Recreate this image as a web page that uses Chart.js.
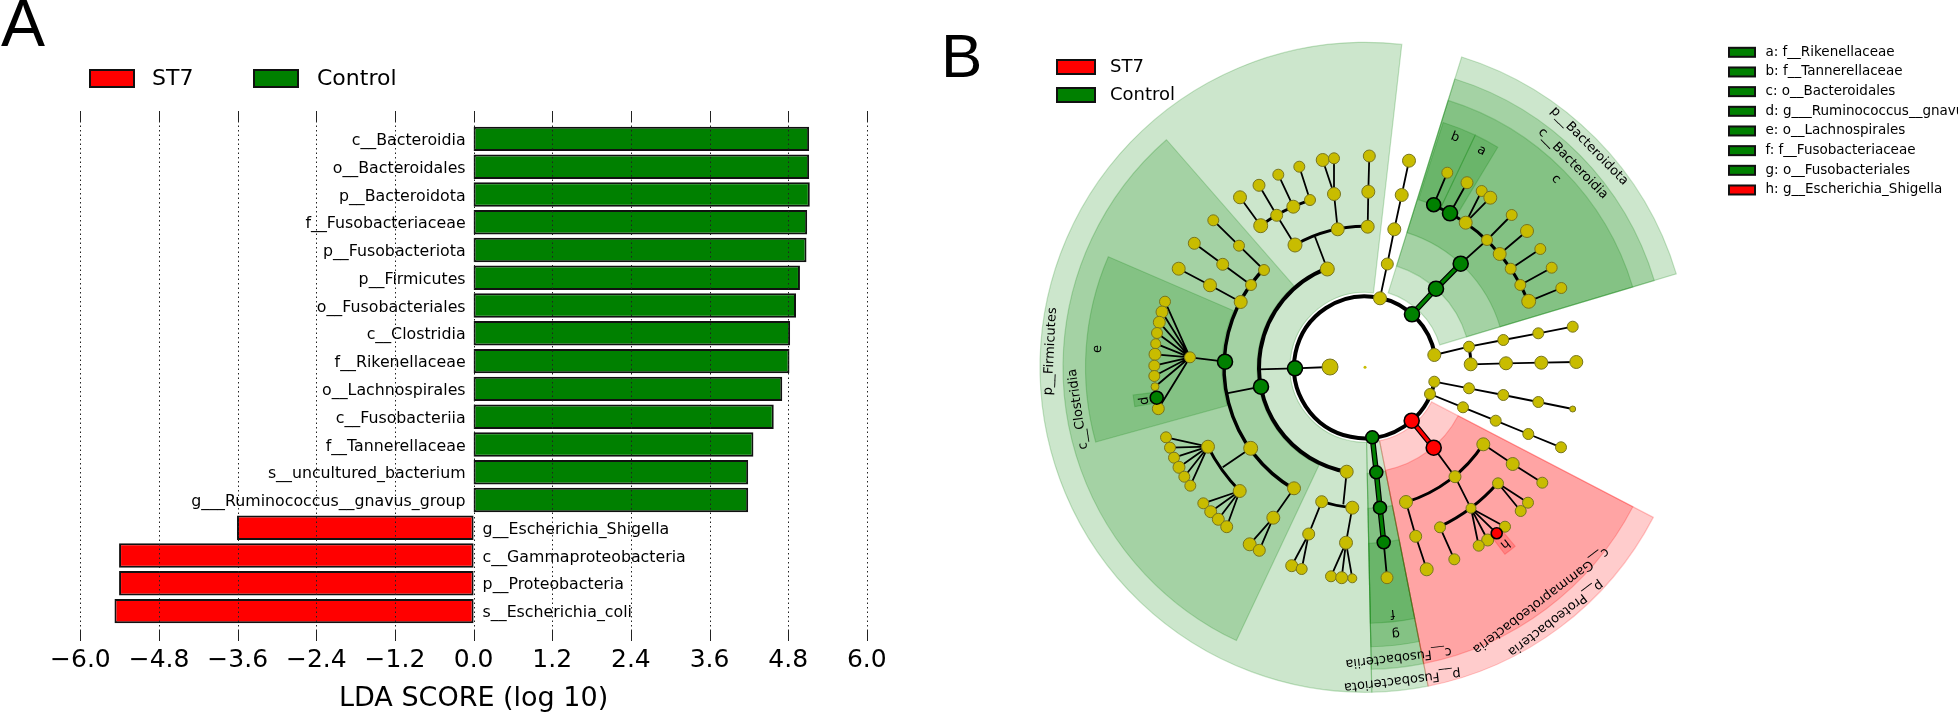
<!DOCTYPE html>
<html>
<head>
<meta charset="utf-8">
<title>LEfSe</title>
<script src="https://cdn.jsdelivr.net/npm/chart.js@4/dist/chart.umd.min.js"></script>
<style>
  body { margin: 0; background: #fff; overflow: hidden; }
  canvas { position: absolute; top: 0; }
  #barras { left: 0; }
  #clado { left: 920px; }
</style>
</head>
<body>
<canvas id="barras" width="920" height="712"></canvas>
<canvas id="clado" width="1038" height="712"></canvas>
<script>
// DATOS PANEL A
const featureNames = ['c__Bacteroidia', 'o__Bacteroidales', 'p__Bacteroidota', 'f__Fusobacteriaceae', 'p__Fusobacteriota',
  'p__Firmicutes', 'o__Fusobacteriales', 'c__Clostridia', 'f__Rikenellaceae', 'o__Lachnospirales', 'c__Fusobacteriia',
  'f__Tannerellaceae', 's__uncultured_bacterium', 'g___Ruminococcus__gnavus_group', 'g__Escherichia_Shigella',
  'c__Gammaproteobacteria', 'p__Proteobacteria', 's__Escherichia_coli'];
const ldaScores = [5.12, 5.12, 5.13, 5.09, 5.08, 4.98, 4.92, 4.83, 4.82, 4.71, 4.58, 4.27, 4.19, 4.19, -3.61, -5.41, -5.41, -5.48];
const xTickLabels = ['\u22126.0', '\u22124.8', '\u22123.6', '\u22122.4', '\u22121.2', '0.0', '1.2', '2.4', '3.6', '4.8', '6.0'];
const groupNames = ['ST7', 'Control'];

// DATOS PANEL B: nodos del cladograma
const nodeIds = [
  'F', 'Fj', 'F0', 'A', 'Aj', 'a1', 'a2', 'a3', 'a1a', 'a1b', 'a1c', 'a1d', 'a1bl', 'a1al', 'a1cl', 'a1dl', 'a2a', 'a2b', 'a2c', 'a3a', 'a3b',
  'K1', 'K2', 'K3', 'K4', 'K5',
  'Cl', 'Clj', 'B', 'B2', 'B3', 'b1', 'b1l', 'b2', 'b2l', 'b3', 'b3l',
  'L', 'Lh', 'l1', 'l2', 'l3', 'l4', 'l5', 'l6', 'l7', 'l8', 'l9', 'l11', 'Ld',
  'M', 'Mj', 'm1', 'm2', 'm1a', 'm1b', 'm1c', 'm1d', 'm1e', 'm1f', 'm2a', 'm2b', 'm2c', 'm2d',
  'P', 'P1', 'P1a', 'P1b',
  'Q', 'Qj', 'q1', 'q2', 'q1a', 'q1b', 'q1c', 'q2a', 'q2b', 'q2c', 'q2d',
  'U', 'U1', 'U2', 'U3', 'U4',
  'R', 'R1', 'S', 'S1', 'S2', 'S1a', 'S1b', 'S2a', 'S2b', 'T', 'T1', 'T2', 'T1a', 'T1b', 'T2a', 'Tf1', 'Tf3', 'Tf4', 'Th',
  'V', 'V1', 'V2', 'V3', 'V4', 'W1', 'W2', 'W3', 'W4',
  'X', 'X1', 'X2', 'X3', 'X4', 'Y', 'Y1', 'Y2', 'Y3', 'Y4',
  'G', 'G1', 'G2', 'G3', 'G4', 'G5', 'G6', 'G7', 'G8', 'g3', 'g4', 'g5a', 'g5b', 'g6', 'g7', 'g8', 'g9',
  'O', 'N', 'n'];
const nodeX = [
  1295, 1258.3, 1330, 1327.3, 1315, 1295, 1337.7, 1367.7, 1276.7, 1260.7, 1293.3, 1310, 1240, 1259, 1278.3, 1299.3, 1334, 1322.7, 1334, 1368.3, 1369.3,
  1380, 1387.3, 1394.3, 1401.7, 1409,
  1261, 1226.7, 1240.7, 1251, 1264, 1210, 1178.7, 1222.7, 1194.3, 1239, 1213.3,
  1225, 1190, 1165, 1162, 1159.3, 1157, 1155.7, 1155, 1154.3, 1154.3, 1155, 1158.3, 1156.7,
  1250.7, 1222.7, 1208, 1239.7, 1166, 1170, 1174, 1179, 1184.3, 1190.3, 1203.3, 1210.7, 1218.3, 1226.7,
  1294, 1273.3, 1249.7, 1259.3,
  1346.7, 1343.3, 1321.7, 1352.3, 1308.7, 1291.7, 1301.7, 1346, 1331, 1341.7, 1352.3,
  1372.3, 1376.3, 1380, 1383.7, 1387,
  1411.7, 1433.7, 1455, 1483.3, 1406, 1512.7, 1542.3, 1415.7, 1426.7, 1471, 1498, 1440, 1520.7, 1528, 1454.3, 1505, 1487.7, 1478.7, 1496.7,
  1434.3, 1469, 1503.3, 1538.3, 1572.7, 1470.7, 1506, 1541.3, 1576.3,
  1434.3, 1469, 1503.3, 1538.3, 1572.7, 1430, 1463, 1495.7, 1528.3, 1561,
  1412, 1436, 1460.7, 1433.7, 1450, 1465.7, 1487, 1499.7, 1510.7, 1447.3, 1467, 1481.7, 1490.3, 1511.7, 1527, 1540.3, 1551.7,
  1520.3, 1528.7, 1561.3];
const nodeY = [
  368.3, 369.3, 367, 269, 236.7, 245, 229.3, 226.7, 215.3, 225.7, 206.7, 200, 197.3, 185.3, 174.7, 166.7, 194, 160, 158.3, 191.7, 156,
  298.3, 264, 229.3, 195, 160.7,
  386.7, 393.3, 302, 285, 270, 285.3, 268.7, 264.3, 243.3, 245.7, 220.3,
  361.7, 357.3, 301.7, 312, 322.3, 333, 343.7, 354.3, 365.7, 376, 386.7, 408.7, 397.7,
  448.3, 467.3, 446.7, 491, 437.3, 447.7, 457.7, 467.3, 476.7, 485.7, 503.3, 511.7, 519.3, 526.7,
  488.3, 517.7, 544.3, 550.3,
  471.7, 504.3, 501.7, 507.7, 534, 565.7, 569, 542.7, 576.3, 577.7, 578.3,
  437.3, 472.3, 507.7, 542.3, 577.7,
  420.7, 447.7, 476.7, 444.3, 502, 464, 482.7, 536.3, 569.3, 508.3, 483.3, 527.3, 511, 502.7, 559.3, 526.7, 540, 545.7, 533.3,
  355, 346.7, 340, 333.3, 326.7, 364.3, 363.3, 362.7, 362,
  381.7, 388.3, 395, 402, 409, 394, 407.3, 420.7, 434, 447.3,
  314.3, 288.7, 263.7, 204.7, 213.3, 222.7, 240, 254, 268.7, 172.7, 182.7, 191, 197.7, 215, 231, 249, 267.7,
  285, 301.3, 288];
const nodeSizes = [
  7.5, 0, 8, 7, 0, 7, 6.5, 6.5, 6, 7, 6.5, 5.5, 6.5, 6, 5.5, 5.5, 6.5, 6.5, 5.5, 6.5, 6,
  6.5, 6, 6.5, 6.5, 6.5,
  7.5, 0, 6.5, 5.5, 5.5, 6.5, 6.5, 6, 6, 5.5, 5.5,
  7.5, 5.5, 5.5, 6, 6, 5.5, 5, 6, 5.5, 5.5, 4, 6, 6.5,
  7, 0, 6.5, 6.5, 5.5, 5.5, 5.5, 6, 5.5, 5.5, 5.5, 6, 6, 6,
  6.5, 6.5, 6.5, 6,
  6.5, 0, 6, 6.5, 6, 6, 5.5, 6.5, 5.5, 6, 4.5,
  6.5, 6.5, 6.5, 6.5, 6,
  7.5, 7.5, 6, 6.5, 6.5, 6.5, 5.5, 6, 6.5, 5, 5.5, 5.5, 5.5, 5.5, 5.5, 5.5, 6, 5.5, 5.5,
  6.5, 5.5, 5.5, 5.5, 5.5, 6.5, 6.5, 6.5, 6.5,
  5.5, 5.5, 5.5, 5.5, 3, 5.5, 5.5, 5.5, 5.5, 5.5,
  7.5, 7.5, 7.5, 7, 7.5, 6.5, 5.5, 6.5, 5.5, 5.5, 6, 5.5, 6.5, 5.5, 6.5, 5.5, 5.5,
  5.5, 7, 5.5];
const greenNodes = ['F', 'Cl', 'L', 'Ld', 'U', 'U1', 'U2', 'U3', 'G', 'G1', 'G2', 'G3', 'G4'];
const redNodes = ['R', 'R1', 'Th'];

// ramas: cada cadena une nodos consecutivos
const thinChains = ['F Fj', 'F F0', 'A Aj', 'a1 a1a a1al', 'a1b a1bl', 'a1c a1cl', 'a1d a1dl', 'a2 a2a a2b', 'a2a a2c', 'a3 a3a a3b',
  'K1 K2 K3 K4 K5', 'Cl Clj', 'B b1 b1l', 'B2 b2 b2l', 'B3 b3 b3l', 'L Lh',
  'Lh l1', 'Lh l2', 'Lh l3', 'Lh l4', 'Lh l5', 'Lh l6', 'Lh l7', 'Lh l8', 'Lh l9', 'Lh l11', 'M Mj',
  'm1 m1a', 'm1 m1b', 'm1 m1c', 'm1 m1d', 'm1 m1e', 'm1 m1f', 'm2 m2a', 'm2 m2b', 'm2 m2c', 'm2 m2d',
  'P P1 P1a', 'P1 P1b', 'Q Qj', 'q1 q1a q1b', 'q1a q1c', 'q2 q2a q2b', 'q2a q2c', 'q2a q2d', 'U3 U4',
  'R1 S T', 'S1 S1a S1b', 'S2 S2a S2b', 'T1 T1a', 'T1 T1b', 'T2 T2a', 'T Tf1', 'T Th', 'T Tf3', 'T Tf4',
  'V V1 V2 V3 V4', 'W1 W2 W3 W4', 'X X1 X2 X3 X4', 'Y Y1 Y2 Y3 Y4',
  'G2 G6', 'G3 g3', 'G4 g4', 'G5 g5a', 'G5 g5b', 'G6 g6', 'G7 g7', 'G8 g8', 'O g9', 'N n'];
const greenChains = ['U U1 U2 U3', 'G G1 G2'];
const redChains = ['R R1'];

// arcos gruesos: radio, angulo inicial, angulo final (grados), grosor
const arcRadius = [71, 106, 141, 141, 176, 176, 141, 176, 141, 176, 106];
const arcFrom = [11.7, 99.9, 120.4, 240.2, 233.6, 135.4, 95.2, -67.1, 33, 41.1, -11.2];
const arcTo = [350, 249, 223.9, 271.1, 251.8, 153.2, 107.9, -22, 73, 64.9, -1.7];
const arcWidths = [4, 4, 3.5, 3, 3, 3, 2.5, 3, 3, 3, 3];

// sectores: angulos y radios de cada clado marcado
const wedgeFrom = [88.8, -72.7, 78.8, 27.5, 115.2, -72.7, 78.8, 27.5, 164.5, -72.7, 78.8, -72.3, -64.6, 78.8, 170.3, 50];
const wedgeTo = [276.5, -16.7, 88.8, 78.8, 228.9, -16.7, 88.8, 78.8, 203.3, -16.7, 88.8, -64.6, -58.9, 88.8, 173.2, 53.2];
const wedgeInner = [75, 78, 75, 75, 108, 106, 106, 105, 143, 141, 141, 176, 176, 176, 211, 211];
const wedgeOuter = [325, 325, 325, 325, 302, 302, 302, 302, 279.5, 279.5, 279.5, 257, 257, 256, 233.5, 233.5];
const wedgeGroup = ['Control', 'Control', 'Control', 'ST7', 'Control', 'Control', 'Control', 'ST7', 'Control', 'Control', 'Control', 'Control', 'Control', 'Control', 'Control', 'ST7'];

const cladeLabels = ['p__Bacteroidota', 'c__Bacteroidia', 'c', 'b', 'a', 'p__Firmicutes', 'c__Clostridia', 'e', 'd', 'f', 'g',
  'c__Fusobacteriia', 'p__Fusobacteriota', 'c__Gammaproteobacteria', 'p__Proteobacteria', 'h'];
const cladeLabelAngle = [-44.6, -44.4, -44.6, -68.6, -61.7, 182.9, 171.7, 183.9, 171.4, 83.6, 83.4, 83.4, 83.2, 53, 52.8, 51.6];
const cladeLabelRadius = [315, 291, 268, 247, 246, 315, 290, 268, 223, 247.5, 268, 292, 315, 292, 315, 225];

const cladeLegend = ['a: f__Rikenellaceae', 'b: f__Tannerellaceae', 'c: o__Bacteroidales', 'd: g___Ruminococcus__gnavus_group',
  'e: o__Lachnospirales', 'f: f__Fusobacteriaceae', 'g: o__Fusobacteriales', 'h: g__Escherichia_Shigella'];
const cladeLegendGroup = ['Control', 'Control', 'Control', 'Control', 'Control', 'Control', 'Control', 'ST7'];

const COLORES = { ST7: '#ff0000', Control: '#008000' };
const RELLENO = { ST7: 'rgba(255,0,0,0.2)', Control: 'rgba(0,128,0,0.2)' };
const BORDE = { ST7: 'rgba(255,0,0,0.22)', Control: 'rgba(0,128,0,0.22)' };
const AMARILLO = '#c8bc00';
const FUENTE = '"DejaVu Sans", sans-serif';
const CENTRO = { x: 1365, y: 367.3 };

Chart.defaults.font.family = FUENTE;
Chart.defaults.color = '#000';

function swatch(ctx, x, y, w, h, color) {
  ctx.fillStyle = color;
  ctx.strokeStyle = '#111';
  ctx.lineWidth = 2;
  ctx.fillRect(x, y, w, h);
  ctx.strokeRect(x, y, w, h);
}

function write(ctx, text, x, y, font, align) {
  ctx.font = font;
  ctx.fillStyle = '#000';
  ctx.textAlign = align || 'left';
  ctx.textBaseline = 'middle';
  ctx.fillText(text, x, y);
}


// PANEL A

const panelA = {
  id: 'panelA',
  afterDatasetsDraw(chart) {
    const { ctx, scales: { x, y } } = chart;
    ctx.save();

    featureNames.forEach((name, i) => {
      const left = ldaScores[i] > 0;
      write(ctx, name, x.getPixelForValue(0) + (left ? -8 : 9), y.getPixelForValue(i) + 2, '15.8px ' + FUENTE, left ? 'right' : 'left');
    });

    // rejilla punteada y marcas arriba y abajo
    x.ticks.forEach(t => {
      const px = Math.round(x.getPixelForValue(t.value)) + 0.5;
      ctx.strokeStyle = '#222';
      ctx.lineWidth = 1;
      ctx.setLineDash([1.5, 3]);
      ctx.beginPath();
      ctx.moveTo(px, 121);
      ctx.lineTo(px, 631);
      ctx.stroke();
      ctx.setLineDash([]);
      ctx.beginPath();
      ctx.moveTo(px, 111);
      ctx.lineTo(px, 121);
      ctx.moveTo(px, 631);
      ctx.lineTo(px, 641);
      ctx.stroke();
    });

    swatch(ctx, 90, 70, 44, 17, COLORES.ST7);
    write(ctx, groupNames[0], 152, 79, '22px ' + FUENTE);
    swatch(ctx, 254, 70, 44, 17, COLORES.Control);
    write(ctx, groupNames[1], 317, 79, '22px ' + FUENTE);
    write(ctx, 'A', 1, 28, '66px "Liberation Sans"');
    ctx.restore();
  }
};

new Chart(document.getElementById('barras'), {
  type: 'bar',
  data: {
    labels: featureNames,
    datasets: groupNames.map(group => ({
      label: group,
      data: ldaScores.map(v => ((v < 0) === (group === 'ST7') ? v : null)),
      backgroundColor: COLORES[group],
      borderColor: '#111',
      borderWidth: 2,
      borderSkipped: false,
      categoryPercentage: 1,
      barPercentage: 0.88
    }))
  },
  options: {
    indexAxis: 'y',
    responsive: false,
    animation: false,
    layout: { autoPadding: false, padding: { left: 80.4, right: 53.2, top: 125, bottom: 0 } },
    plugins: { legend: { display: false }, tooltip: { enabled: false } },
    scales: {
      x: {
        stacked: true,
        min: -6,
        max: 6,
        afterFit: scale => { scale.height = 87; },
        grid: { display: false },
        border: { display: false },
        ticks: {
          stepSize: 1.2,
          autoSkip: false,
          maxRotation: 0,
          padding: 12,
          font: { size: 25 },
          callback: (value, i) => xTickLabels[i]
        },
        title: { display: true, text: 'LDA SCORE (log 10)', font: { size: 27 }, padding: { top: 4, bottom: -3 } }
      },
      y: { stacked: true, display: false, offset: true }
    }
  },
  plugins: [panelA]
});


// PANEL B

const nodeIndex = {};
nodeIds.forEach((id, i) => { nodeIndex[id] = i; });

function chainPoints(chains) {
  const points = [];
  chains.forEach(chain => {
    chain.split(' ').forEach(id => {
      const i = nodeIndex[id];
      if (i !== undefined) points.push({ x: nodeX[i], y: nodeY[i] });
    });
    points.push({ x: NaN, y: NaN });
  });
  return points;
}

function branchSet(chains, color, width, order) {
  return {
    data: chainPoints(chains),
    showLine: true,
    spanGaps: false,
    pointRadius: 0,
    borderColor: color,
    borderWidth: width,
    order: order
  };
}

const rad = deg => deg * Math.PI / 180;

const panelB = {
  id: 'panelB',
  beforeDatasetsDraw(chart) {
    const { ctx, scales: { x, y } } = chart;
    const cx = x.getPixelForValue(CENTRO.x);
    const cy = y.getPixelForValue(CENTRO.y);
    const len = r => x.getPixelForValue(CENTRO.x + r) - cx;
    ctx.save();

    wedgeFrom.forEach((from, i) => {
      ctx.beginPath();
      ctx.arc(cx, cy, len(wedgeOuter[i]), rad(from), rad(wedgeTo[i]));
      ctx.arc(cx, cy, len(wedgeInner[i]), rad(wedgeTo[i]), rad(from), true);
      ctx.closePath();
      ctx.fillStyle = RELLENO[wedgeGroup[i]];
      ctx.fill();
      ctx.strokeStyle = BORDE[wedgeGroup[i]];
      ctx.lineWidth = 1.2;
      ctx.stroke();
    });

    ctx.strokeStyle = '#000';
    arcRadius.forEach((r, i) => {
      ctx.beginPath();
      ctx.lineWidth = arcWidths[i];
      ctx.arc(cx, cy, len(r), rad(arcFrom[i]), rad(arcTo[i]));
      ctx.stroke();
    });
    ctx.restore();
  },
  afterDatasetsDraw(chart) {
    const { ctx, scales: { x, y } } = chart;
    ctx.save();

    cladeLabels.forEach((text, i) => {
      const a = rad(cladeLabelAngle[i]);
      ctx.save();
      ctx.translate(x.getPixelForValue(CENTRO.x + cladeLabelRadius[i] * Math.cos(a)), y.getPixelForValue(CENTRO.y + cladeLabelRadius[i] * Math.sin(a)));
      ctx.rotate(a + Math.PI / 2);
      write(ctx, text, 0, 0, '13px ' + FUENTE, 'center');
      ctx.restore();
    });

    swatch(ctx, x.getPixelForValue(1057), 60, 38, 14, COLORES.ST7);
    write(ctx, groupNames[0], x.getPixelForValue(1110), 67, '18px ' + FUENTE);
    swatch(ctx, x.getPixelForValue(1057), 88, 38, 14, COLORES.Control);
    write(ctx, groupNames[1], x.getPixelForValue(1110), 95, '18px ' + FUENTE);

    cladeLegend.forEach((text, i) => {
      const rowY = 52.3 + i * 19.67;
      swatch(ctx, x.getPixelForValue(1729), rowY - 4.5, 26, 9, COLORES[cladeLegendGroup[i]]);
      write(ctx, text, x.getPixelForValue(1765.5), rowY, '13.5px ' + FUENTE);
    });

    write(ctx, 'B', x.getPixelForValue(941), 60, '62px "Liberation Sans"');
    ctx.restore();
  }
};

const kindColor = id => (greenNodes.includes(id) ? COLORES.Control : redNodes.includes(id) ? COLORES.ST7 : AMARILLO);
const strongNode = id => greenNodes.includes(id) || redNodes.includes(id);

new Chart(document.getElementById('clado'), {
  type: 'scatter',
  data: {
    datasets: [
      {
        data: nodeIds.map((id, i) => ({ x: nodeX[i], y: nodeY[i] })).concat([{ x: CENTRO.x, y: CENTRO.y }]),
        pointRadius: nodeSizes.concat([1.5]),
        pointBackgroundColor: nodeIds.map(kindColor).concat([AMARILLO]),
        pointBorderColor: nodeIds.map(id => (strongNode(id) ? '#000' : '#77751f')).concat([AMARILLO]),
        pointBorderWidth: nodeIds.map(id => (strongNode(id) ? 1.6 : 1)).concat([0]),
        order: 0
      },
      branchSet(greenChains, COLORES.Control, 3.2, 1),
      branchSet(redChains, COLORES.ST7, 3.2, 1),
      branchSet(greenChains.concat(redChains), '#000', 5.6, 2),
      branchSet(thinChains, '#000', 1.8, 3)
    ]
  },
  options: {
    responsive: false,
    animation: false,
    layout: { autoPadding: false, padding: 0 },
    plugins: { legend: { display: false }, tooltip: { enabled: false } },
    scales: {
      x: { type: 'linear', display: false, min: 920, max: 1958 },
      y: { type: 'linear', display: false, min: 0, max: 712, reverse: true }
    }
  },
  plugins: [panelB]
});
</script>
</body>
</html>
